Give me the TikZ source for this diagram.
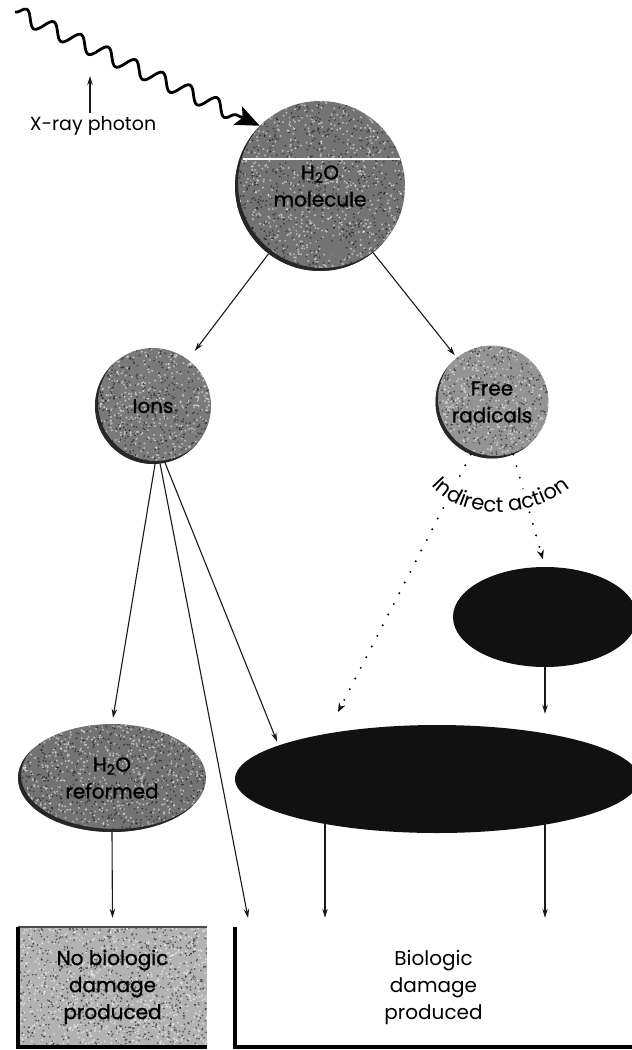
\documentclass[tikz,border=0pt]{standalone}
\usepackage{fontspec}
\setmainfont{Poppins}
\newfontfamily\heavier{Poppins}[FakeBold=1.2]
\usetikzlibrary{arrows.meta,decorations.pathmorphing,decorations.text,shapes.geometric,calc}

\definecolor{ink}{HTML}{111111}

\tikzset{
  lbl/.style={font=\fontsize{20}{27}\selectfont, align=center, text=black},
  hlbl/.style={font=\fontsize{20}{27}\selectfont\heavier, align=center, text=black},
  % stippled fill: #1 = number of specks, #2/#3 = half extents, #4 = colour of the shadow rim
  texture/.style n args={4}{path picture={
      \coordinate (pc) at (path picture bounding box.center);
      \foreach \k in {1,...,#1}{
        \fill[white, opacity=.5] ($(pc)+({#2*rand},{#3*rand})$) circle (1.1pt);
        \fill[black, opacity=.5] ($(pc)+({#2*rand},{#3*rand})$) circle (0.95pt);
      }
      \path[fill=#4, even odd rule] (pc) ellipse [x radius=#2+12, y radius=#3+12]
                               ($(pc)+(3,-3)$) ellipse [x radius=#2, y radius=#3];
  }},
  bubble/.style={circle, inner sep=0pt, hlbl},
  oval/.style={ellipse, inner sep=0pt, hlbl},
  blob/.style={ellipse, inner sep=0pt, fill=ink},
  link/.style={draw=black!90, line width=1.1pt, -{Stealth[length=9pt,width=5.5pt]}},
  dotlink/.style={draw=black, line width=2.2pt, line cap=round, dash pattern=on 0pt off 12pt,
                  -{Stealth[length=9pt,width=7pt]}},
  photon/.style={draw=black, line width=2.8pt, decorate,
                 decoration={snake, segment length=30pt, amplitude=7.5pt, post length=26pt},
                 -{Stealth[length=24pt,width=20pt,inset=5pt]}},
}

\begin{document}
\begin{tikzpicture}[x=1pt,y=-1pt]
\pgfmathsetseed{2024}
\clip (0,0) rectangle (632,1050);

% ---- water molecule and its products ----
\node[bubble, minimum size=170pt, fill=black!55, texture={750}{85}{85}{black!85}] (h2o) at (320,186)
  {H\textsubscript{2}O\\molecule};
\begin{scope}
  \clip (320,186) circle (85);
  \draw[white, line width=2.5pt] (243,159) -- (400,159);
\end{scope}

\node[bubble, minimum size=116pt, fill=black!52, texture={450}{58}{58}{black!85}] (ions) at (153,406) {Ions};
\node[bubble, minimum size=113pt, fill=black!42, texture={430}{57}{57}{black!85}] (fr) at (492,402)
  {Free\\radicals};

\node[oval, minimum width=188pt, minimum height=108pt, fill=black!55, texture={650}{94}{54}{black!85}]
  (ref) at (112,778) {H\textsubscript{2}O\\reformed};

\node[blob, minimum width=184pt, minimum height=100pt] (small) at (545,617) {};
\node[blob, minimum width=404pt, minimum height=108pt] (big) at (437,779) {};

% ---- outcome boxes ----
\node[rectangle, minimum width=189pt, minimum height=120pt, inner sep=0pt, fill=black!30,
      texture={850}{95}{60}{none}, hlbl] (nobio) at (112.5,987) {No biologic\\damage\\produced};
\node[rectangle, minimum width=397pt, minimum height=120pt, inner sep=0pt, lbl] (bio) at (433.5,987)
  {Biologic\\damage\\produced};
\draw[line width=1.5pt, black!70] (nobio.north west) -- (nobio.north east);
\draw[line width=3.5pt] (nobio.north west) -- (nobio.south west) -- (nobio.south east);
\draw[line width=3.5pt] (bio.north west) -- (bio.south west) -- (bio.south east);

% ---- incoming photon ----
\coordinate (pstart) at (15,12);
\draw[photon] (pstart) -- (h2o.135);
\node[font=\fontsize{19}{19}\selectfont, inner sep=0pt, anchor=base] (xray) at (93,130) {X-ray photon};
\coordinate (wave) at (90,76);
\draw[link] (xray.north -| wave) ++(0,-3) -- (wave);

% ---- connectors ----
\draw[link, shorten >=11pt] (h2o) -- (ions);
\draw[link, shorten >=3pt] (h2o) -- (fr);

\coordinate (b0) at ([xshift=15pt]bio.north west);
\coordinate (b1) at ([xshift=-108.5pt]bio.north);
\coordinate (b2) at ([xshift=111.5pt]bio.north);
\draw[link, shorten >=6pt] (ions.-88) -- (ref.north);
\draw[link, shorten >=9pt] (ions.-83) -- (b0);
\draw[link, shorten >=4pt] (ions.-78) -- (big.168);

\draw[link, shorten >=9pt] (ref.south) -- (nobio.north);
\draw[link, shorten <=44pt, shorten >=9pt] (big.center -| b1) -- (b1);
\draw[link, shorten <=44pt, shorten >=9pt] (big.center -| b2) -- (b2);
\draw[link, shorten >=11pt] (small.south) -- (small.south |- big.north);

\coordinate (dtip) at (338,712);
\draw[dotlink, shorten >=8pt] (fr.-68) -- (small.north);
\draw[dotlink] (fr.-112) -- (dtip);

% ---- curved caption under the free radicals ----
\draw[white, line width=20pt] (430,474) .. controls (458,509) and (528,513) .. (572,476);
\path[decorate, decoration={text along path, text align=center,
      text={|\fontsize{21}{21}\selectfont|Indirect action}}]
  (430,484) .. controls (458,519) and (528,523) .. (572,486);
\end{tikzpicture}
\end{document}
